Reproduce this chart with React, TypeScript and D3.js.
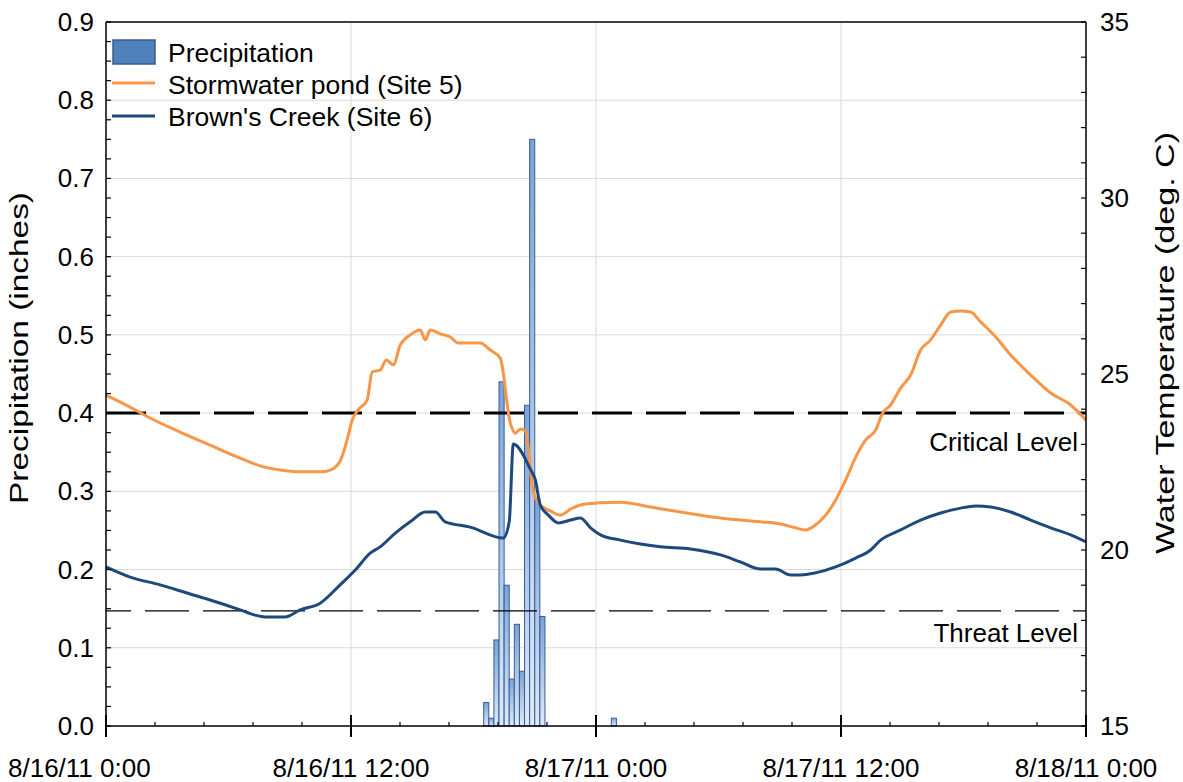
import React from "react";
import * as d3 from "d3";

const W = 1183;
const H = 782;

// x-axis: hours after 8/16/11 0:00
const xTickHours = [0, 12, 24, 36, 48];
const xTickLabels = ["8/16/11 0:00", "8/16/11 12:00", "8/17/11 0:00", "8/17/11 12:00", "8/18/11 0:00"];
const leftTicks = [0, 0.1, 0.2, 0.3, 0.4, 0.5, 0.6, 0.7, 0.8, 0.9];
const rightTicks = [15, 20, 25, 30, 35];

// Precipitation (inches) in 15-minute intervals, start hour of each interval
const precipHours = [18.5, 18.75, 19, 19.25, 19.5, 19.75, 20, 20.25, 20.5, 20.75, 21, 21.25, 24.75];
const precipInches = [0.03, 0.01, 0.11, 0.44, 0.18, 0.06, 0.13, 0.07, 0.41, 0.75, 0.29, 0.14, 0.01];

// Stormwater pond (Site 5), deg C
const site5Hours = [0, 1.18, 2.16, 3.63, 5.1, 6.57, 7.55, 8.53, 9.51, 10.49, 10.98, 11.47, 11.81, 12.06, 12.35, 12.79, 13.04, 13.43, 13.73, 14.07, 14.41, 14.9, 15.39, 15.64, 15.88, 16.37, 16.86, 17.25, 18.33, 18.82, 19.31, 19.8, 20.05, 20.29, 20.54, 20.93, 21.27, 21.76, 22.25, 22.75, 23.24, 24.22, 25.2, 26.67, 28.14, 29.12, 30.1, 31.08, 32.06, 33.04, 33.77, 34.26, 34.75, 35.25, 35.74, 36.23, 36.72, 37.21, 37.7, 38.04, 38.43, 38.92, 39.41, 39.9, 40.39, 40.88, 41.37, 41.86, 42.35, 42.84, 43.58, 44.31, 45.29, 46.27, 47.25, 48];
const site5Temp = [24.4, 24.06, 23.75, 23.35, 22.98, 22.61, 22.39, 22.27, 22.22, 22.22, 22.27, 22.53, 23.13, 23.69, 23.98, 24.26, 25.06, 25.11, 25.4, 25.26, 25.82, 26.11, 26.25, 25.97, 26.25, 26.14, 26.05, 25.88, 25.88, 25.68, 25.45, 23.61, 23.32, 23.44, 23.38, 21.65, 21.28, 21.11, 20.99, 21.16, 21.28, 21.34, 21.36, 21.22, 21.08, 20.99, 20.91, 20.85, 20.8, 20.74, 20.63, 20.57, 20.71, 20.99, 21.42, 21.99, 22.64, 23.13, 23.41, 23.89, 24.12, 24.6, 24.97, 25.68, 25.97, 26.39, 26.76, 26.79, 26.76, 26.48, 26.05, 25.54, 24.97, 24.46, 24.12, 23.69];

// Brown's Creek (Site 6), deg C
const site6Hours = [0, 1.18, 2.65, 4.12, 5.1, 6.57, 7.3, 7.79, 8.77, 9.51, 10.49, 11.47, 12.21, 12.94, 13.43, 14.17, 14.9, 15.64, 16.13, 16.62, 17.84, 19.46, 19.75, 19.95, 20.78, 21.03, 21.27, 21.67, 22.16, 22.75, 23.24, 23.73, 24.22, 25.2, 26.18, 27.16, 28.63, 30.1, 31.08, 32.06, 32.79, 33.53, 34.02, 34.75, 35.74, 36.72, 37.45, 37.94, 38.92, 39.9, 40.88, 41.86, 42.6, 43.33, 44.31, 45.29, 46.27, 47.25, 48];
const site6Temp = [19.52, 19.23, 19.01, 18.75, 18.58, 18.3, 18.15, 18.1, 18.1, 18.3, 18.49, 19.01, 19.43, 19.91, 20.09, 20.48, 20.8, 21.08, 21.08, 20.8, 20.65, 20.34, 20.8, 23.01, 22.3, 21.99, 21.28, 20.99, 20.77, 20.85, 20.91, 20.63, 20.43, 20.28, 20.17, 20.09, 20.03, 19.86, 19.66, 19.46, 19.46, 19.29, 19.29, 19.35, 19.52, 19.77, 20.0, 20.28, 20.57, 20.85, 21.05, 21.19, 21.25, 21.22, 21.08, 20.85, 20.63, 20.43, 20.23];

const criticalLevel = 23.89;
const threatLevel = 18.27;

const FONT = "Liberation Sans, Arial, sans-serif";

export default function App() {
  const left = 106, right = 1086, top = 22, bottom = 726;
  const x = d3.scaleLinear().domain([0, 48]).range([left, right]);
  const yL = d3.scaleLinear().domain([0, 0.9]).range([bottom, top]);
  const yR = d3.scaleLinear().domain([15, 35]).range([bottom, top]);

  const line = d3.line<[number, number]>()
    .x((d) => x(d[0]))
    .y((d) => yR(d[1]))
    .curve(d3.curveMonotoneX);
  const s5 = site5Hours.map((h, i) => [h, site5Temp[i]] as [number, number]);
  const s6 = site6Hours.map((h, i) => [h, site6Temp[i]] as [number, number]);

  const leftMinor = d3.range(0, 0.9001, 0.025);
  const rightMinor = d3.range(15, 35.001, 1);
  const xMinor = d3.range(0, 48.001, 2.4);

  const fs = 26;

  return (
    <svg width={W} height={H} style={{ position: "absolute", left: 0, top: 0, background: "#fff" }}>
      <defs>
        <linearGradient id="barGrad" x1="0" y1="0" x2="0" y2="1">
          <stop offset="0" stopColor="#7ea2d4" />
          <stop offset="1" stopColor="#e1eaf6" />
        </linearGradient>
      </defs>
      <rect x={0} y={0} width={W} height={H} fill="#fff" />
      {/* gridlines */}
      {leftTicks.filter((t) => t > 0 && t < 0.9).map((t) => (
        <line key={"gh" + t} x1={left} x2={right} y1={yL(t)} y2={yL(t)} stroke="#d9d9d9" strokeWidth={1} />
      ))}
      {xTickHours.filter((h) => h > 0 && h < 48).map((h) => (
        <line key={"gv" + h} x1={x(h)} x2={x(h)} y1={top} y2={bottom} stroke="#d9d9d9" strokeWidth={1} />
      ))}
      {/* bars */}
      {precipHours.map((h, i) => (
        <rect key={"b" + i} x={x(h)} y={yL(precipInches[i])} width={x(h + 0.25) - x(h)}
          height={yL(0) - yL(precipInches[i])} fill="url(#barGrad)" stroke="#2f5f9e" strokeWidth={1} />
      ))}
      {/* reference lines */}
      <line x1={left} x2={right} y1={yR(criticalLevel)} y2={yR(criticalLevel)} stroke="#000" strokeWidth={3} strokeDasharray="40 14" />
      <line x1={left} x2={right} y1={yR(threatLevel)} y2={yR(threatLevel)} stroke="#000" strokeWidth={1.3} strokeDasharray="44 14" strokeDashoffset={19} />
      <text x={1078} y={yR(criticalLevel) + 38} textAnchor="end" fontFamily={FONT} fontSize={26}>Critical Level</text>
      <text x={1078} y={yR(threatLevel) + 31} textAnchor="end" fontFamily={FONT} fontSize={26}>Threat Level</text>
      {/* series */}
      <path d={line(s5) || ""} fill="none" stroke="#f79646" strokeWidth={3} strokeLinejoin="round" />
      <path d={line(s6) || ""} fill="none" stroke="#1f497d" strokeWidth={3} strokeLinejoin="round" />
      {/* axes */}
      <line x1={left} x2={right} y1={top} y2={top} stroke="#000" strokeWidth={1.5} />
      <line x1={left} x2={left} y1={top} y2={bottom} stroke="#000" strokeWidth={1.5} />
      <line x1={right} x2={right} y1={top} y2={bottom + 11} stroke="#000" strokeWidth={1.5} />
      <line x1={left} x2={right} y1={bottom} y2={bottom} stroke="#000" strokeWidth={1.5} />
      {leftMinor.map((t) => (
        <line key={"lt" + t} x1={left} x2={left + 5} y1={yL(t)} y2={yL(t)} stroke="#000" strokeWidth={1.2} />
      ))}
      {rightMinor.map((t) => (
        <line key={"rt" + t} x1={right - 5} x2={right} y1={yR(t)} y2={yR(t)} stroke="#000" strokeWidth={1.2} />
      ))}
      {xMinor.map((h) => (
        <line key={"xm" + h} x1={x(h)} x2={x(h)} y1={bottom - 4} y2={bottom} stroke="#000" strokeWidth={1.2} />
      ))}
      {xTickHours.map((h) => (
        <line key={"xM" + h} x1={x(h)} x2={x(h)} y1={bottom - 11} y2={bottom + 11} stroke="#000" strokeWidth={2} />
      ))}
      {leftTicks.map((t) => (
        <text key={"ll" + t} x={94} y={yL(t) + 9} textAnchor="end" fontFamily={FONT} fontSize={fs}>{t.toFixed(1)}</text>
      ))}
      {rightTicks.map((t) => (
        <text key={"rl" + t} x={1100} y={yR(t) + 9} textAnchor="start" fontFamily={FONT} fontSize={fs}>{t}</text>
      ))}
      {xTickHours.map((h, i) => (
        <text key={"xl" + h} x={i === 0 ? 8 : x(h)} y={777} textAnchor={i === 0 ? "start" : "middle"} fontFamily={FONT} fontSize={fs}>{xTickLabels[i]}</text>
      ))}
      <text transform={`translate(28,348) rotate(-90)`} textAnchor="middle" fontFamily={FONT} fontSize={fs} textLength={312} lengthAdjust="spacingAndGlyphs">Precipitation (inches)</text>
      <text transform={`translate(1174,343) rotate(-90)`} textAnchor="middle" fontFamily={FONT} fontSize={fs} textLength={422} lengthAdjust="spacingAndGlyphs">Water Temperature (deg. C)</text>
      {/* legend */}
      <rect x={113} y={40} width={42} height={24} fill="#4f81bd" stroke="#385d8a" strokeWidth={1.5} />
      <text x={168} y={62} fontFamily={FONT} fontSize={26.5}>Precipitation</text>
      <line x1={112} x2={155} y1={83} y2={83} stroke="#f79646" strokeWidth={3} />
      <text x={168} y={94} fontFamily={FONT} fontSize={26.5}>Stormwater pond (Site 5)</text>
      <line x1={112} x2={155} y1={116} y2={116} stroke="#1f497d" strokeWidth={3} />
      <text x={168} y={126} fontFamily={FONT} fontSize={26.5}>Brown's Creek (Site 6)</text>
    </svg>
  );
}
